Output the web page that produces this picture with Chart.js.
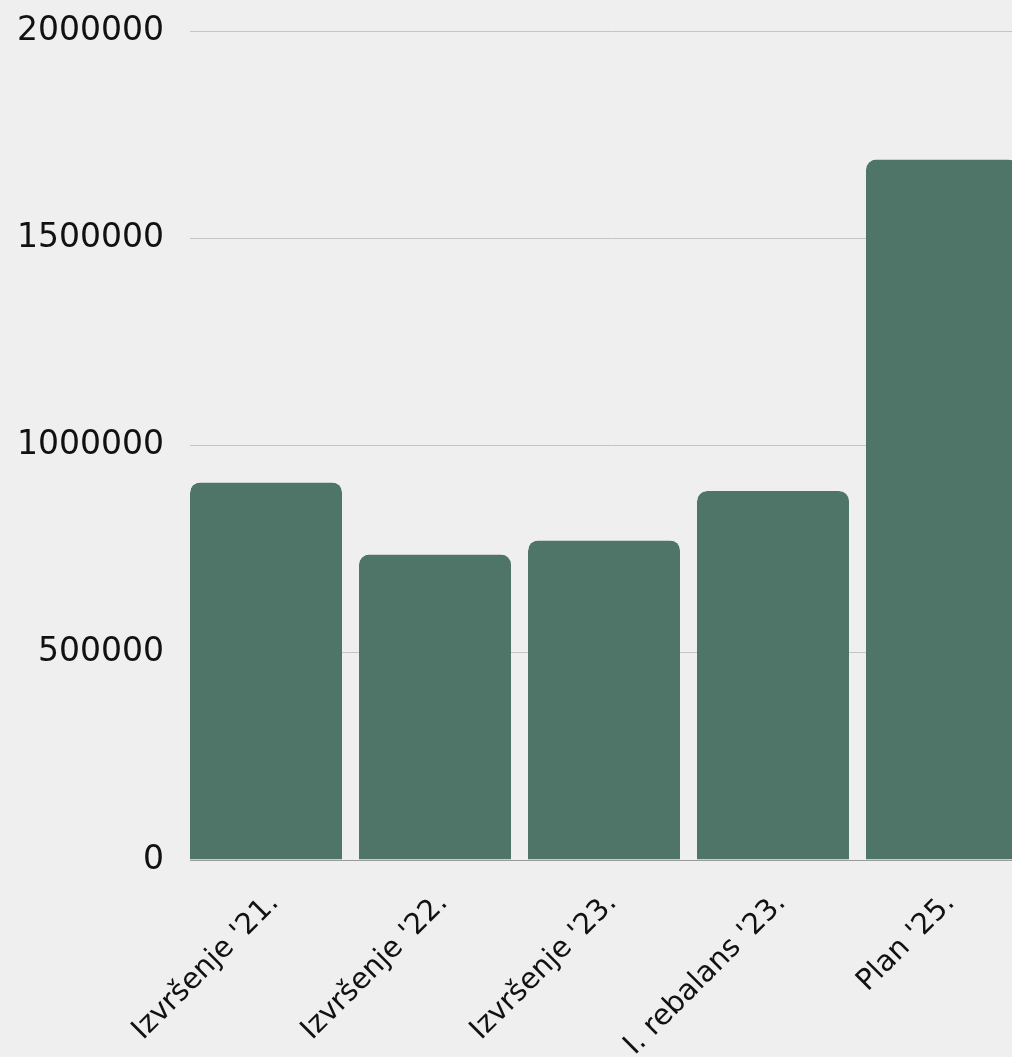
<!DOCTYPE html>
<html>
<head>
<meta charset="utf-8">
<script src="https://cdn.jsdelivr.net/npm/chart.js@4.4.1/dist/chart.umd.min.js"></script>
<style>
  html, body { margin: 0; padding: 0; background: #efefef; overflow: hidden; }
  #wrap { position: relative; width: 1035px; height: 1057px; }
</style>
</head>
<body>
<div id="wrap"><canvas id="c"></canvas></div>
<script>
const categories = ["Izvršenje '21.", "Izvršenje '22.", "Izvršenje '23.", "I. rebalans '23.", "Plan '25."];
const values = [911000, 737000, 771000, 890000, 1690000];
const yTicks = [0, 500000, 1000000, 1500000, 2000000];

const FONT = "'DejaVu Sans', sans-serif";

new Chart(document.getElementById('c'), {
  type: 'bar',
  data: {
    labels: categories,
    datasets: [{
      data: values,
      backgroundColor: '#4f7568',
      borderColor: 'rgba(0,0,0,0)',
      borderWidth: { top: 0, left: 0, bottom: 0, right: 17 },
      borderRadius: { topLeft: 10, topRight: 27, bottomLeft: 0, bottomRight: 0 },
      borderSkipped: 'start',
      inflateAmount: 0,
      barPercentage: 1,
      categoryPercentage: 1
    }]
  },
  options: {
    responsive: true,
    maintainAspectRatio: false,
    animation: false,
    events: [],
    layout: { padding: 0 },
    plugins: { legend: { display: false }, tooltip: { enabled: false } },
    scales: {
      x: {
        offset: true,
        grid: { display: false, drawTicks: false },
        border: { display: true, color: '#9a9a9a', width: 1 },
        ticks: {
          color: '#111',
          font: { family: FONT, size: 29 },
          minRotation: 45,
          maxRotation: 45,
          padding: 26,
          autoSkip: false
        },
        afterFit: (s) => { s.height = 1057 - 860; }
      },
      y: {
        min: 0,
        max: 2000000,
        afterBuildTicks: (s) => { s.ticks = yTicks.map(v => ({ value: v })); },
        grid: { color: '#c4c4c4', lineWidth: 1, drawTicks: false },
        border: { display: false },
        ticks: {
          color: '#111',
          font: { family: FONT, size: 33 },
          padding: 26,
          callback: (v) => String(v)
        },
        afterFit: (s) => { s.width = 190; s.paddingTop = 31; s.paddingBottom = 0; }
      }
    }
  }
});
</script>
</body>
</html>
